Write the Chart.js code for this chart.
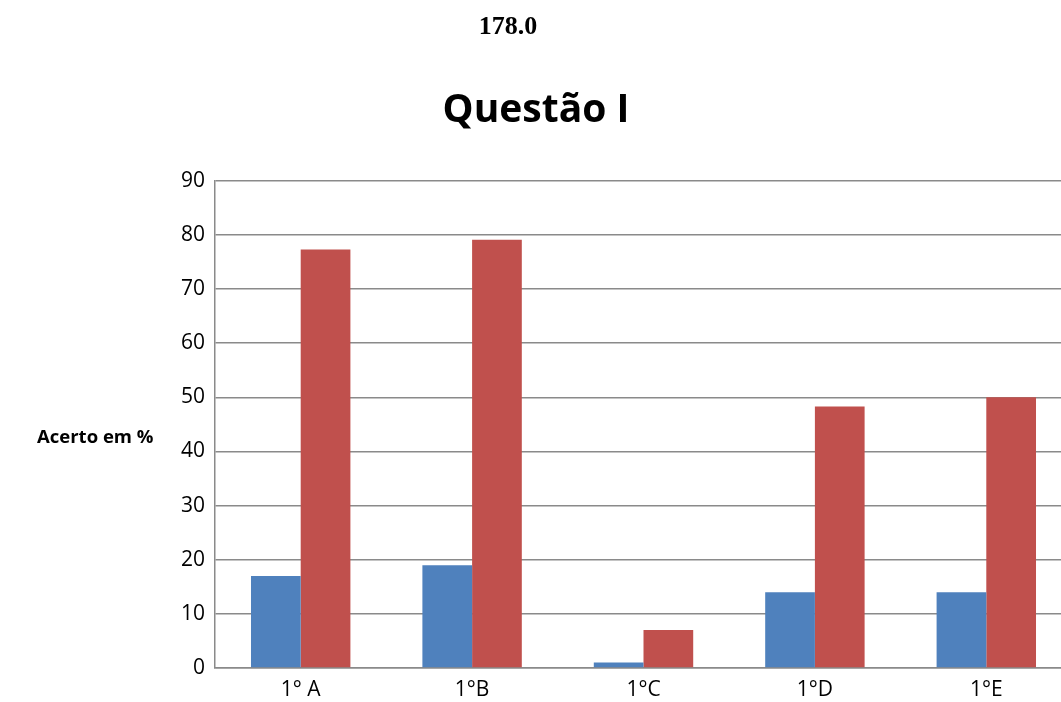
<!DOCTYPE html>
<html>
<head>
<meta charset="utf-8">
<script src="https://cdn.jsdelivr.net/npm/chart.js@4"></script>
<style>
  html, body { margin: 0; padding: 0; background: #fff; overflow: hidden; }
  #wrap { position: relative; width: 1072px; height: 702px; }
  #pageNo {
    position: absolute; left: 458px; top: 13px; width: 100px; text-align: center;
    font: bold 26px/26px "Liberation Serif", serif; color: #000;
  }
</style>
</head>
<body>
<div id="wrap">
  <div id="pageNo">178.0</div>
  <canvas id="questaoChart"></canvas>
</div>
<script>
const turmas = ['1° A', '1°B', '1°C', '1°D', '1°E'];
const serieAzul = [17, 19, 1, 14, 14];
const serieVermelha = [77.3, 79.1, 7, 48.3, 50];
const yTicks = [0, 10, 20, 30, 40, 50, 60, 70, 80, 90];

const fontFamily = '"Open Sans", sans-serif';

// horizontal y-axis caption on the left of the plot
const yCaption = {
  id: 'yCaption',
  afterDraw(chart) {
    const ctx = chart.ctx;
    ctx.save();
    ctx.font = 'bold 18.5px ' + fontFamily;
    ctx.fillStyle = '#000';
    ctx.textAlign = 'left';
    ctx.textBaseline = 'middle';
    ctx.fillText('Acerto em %', 37, 438);
    ctx.restore();
  }
};

const ctx = document.getElementById('questaoChart').getContext('2d');
new Chart(ctx, {
  type: 'bar',
  data: {
    labels: turmas,
    datasets: [
      { label: 'Série 1', data: serieAzul, backgroundColor: '#4F81BD' },
      { label: 'Série 2', data: serieVermelha, backgroundColor: '#C0504D' }
    ]
  },
  options: {
    responsive: true,
    maintainAspectRatio: false,
    animation: false,
    layout: { padding: { left: 0, right: 0, bottom: 0 } },
    datasets: { bar: { categoryPercentage: 0.58, barPercentage: 1 } },
    plugins: {
      legend: { display: false },
      tooltip: { enabled: false },
      title: {
        display: true,
        text: 'Questão I',
        color: '#000',
        font: { family: fontFamily, size: 39, weight: 'bold' },
        padding: { top: 87, bottom: 47 }
      }
    },
    scales: {
      x: {
        afterFit(scale) { scale.height = 34; },
        grid: { display: false, drawTicks: false },
        border: { color: '#8a8a8a', width: 1.5 },
        ticks: { color: '#000', font: { family: fontFamily, size: 21 }, padding: 9, maxRotation: 0 }
      },
      y: {
        min: 0,
        max: 90,
        afterFit(scale) { scale.width = 215; },
        afterBuildTicks(scale) { scale.ticks = yTicks.map(v => ({ value: v })); },
        grid: { color: '#8a8a8a', lineWidth: 1.5, drawTicks: false },
        border: { color: '#8a8a8a', width: 1.5 },
        ticks: { color: '#000', font: { family: fontFamily, size: 21 }, padding: 10 }
      }
    }
  },
  plugins: [yCaption]
});
</script>
</body>
</html>
